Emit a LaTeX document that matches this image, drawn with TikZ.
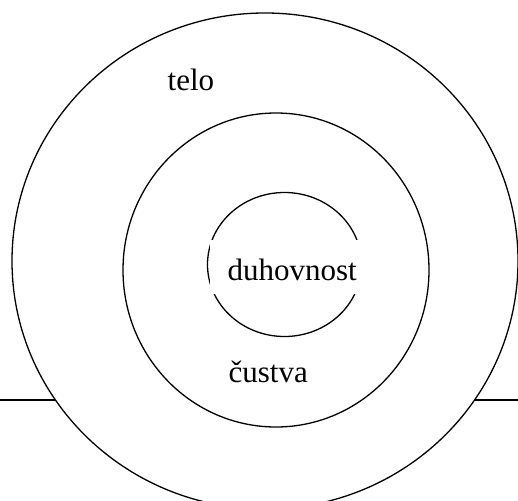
\documentclass[tikz,border=0pt]{standalone}
\usepackage{fontspec}
\setmainfont{Liberation Serif}
\begin{document}
\begin{tikzpicture}[x=1pt, y=-1pt, line width=1.3pt,
    besedilo/.style={font=\fontsize{31}{37}\selectfont, inner sep=0pt}]
    \useasboundingbox (0,0) rectangle (518,500);
    % konci crte in sredisca krogov
    \coordinate (levo) at (0,400);
    \coordinate (desno) at (518,400);
    \coordinate (telo-c) at (265,261);
    \coordinate (custva-c) at (276,270);
    \coordinate (duh-c) at (284.5,264.5);

    % vodoravna crta, krogi jo prekrijejo
    \draw[line width=1.8pt] (levo) -- (desno);

    % trije krogi
    \filldraw[fill=white] (telo-c) ellipse [x radius=253, y radius=248];
    \draw (custva-c) ellipse [x radius=153, y radius=157];
    \draw (duh-c) ellipse [x radius=77, y radius=72];

    % napisi
    \node[besedilo, anchor=base west] (telo) at (167,91) {telo};
    \node[besedilo, anchor=base west, fill=white, inner xsep=18pt,
          text height=40pt, text depth=14pt] (duh) at (209,280) {duhovnost};
    \node[besedilo, anchor=base west] (custva) at (228,382) {čustva};
\end{tikzpicture}
\end{document}
